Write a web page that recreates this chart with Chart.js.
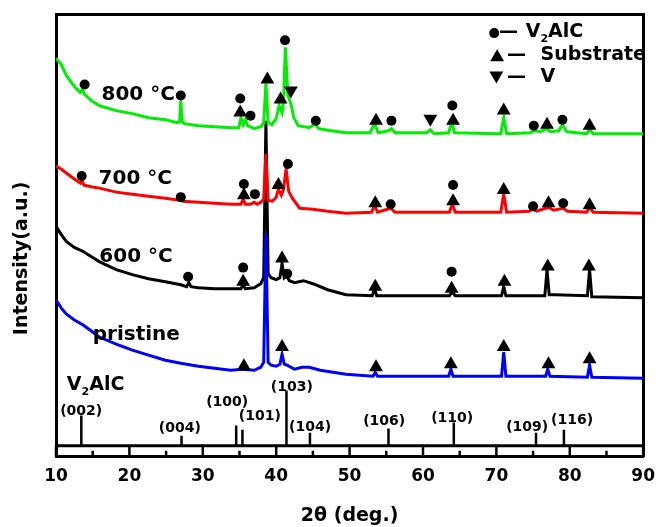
<!DOCTYPE html>
<html>
<head>
<meta charset="utf-8">
<script src="https://cdn.jsdelivr.net/npm/chart.js@4.4.1/dist/chart.umd.min.js"></script>
<style>
  html, body { margin: 0; padding: 0; background: #fff; }
  canvas { display: block; }
</style>
</head>
<body>
<canvas id="xrd" width="665" height="527"></canvas>
<script>
// XRD patterns, [2theta, intensity a.u.] -- curves are stacked with offsets like in the figure
const curve800 = [
  [10, 396], [10.7, 390], [11.4, 379], [12.5, 368], [13.3, 362], [13.6, 365], [13.9, 360], [15, 353],
  [15.9, 349], [18.2, 344], [20.4, 341], [22.6, 337], [24.9, 335], [26.5, 332], [26.85, 333], [27.0, 354],
  [27.2, 333], [27.5, 331], [29.4, 329], [31.6, 328], [33.8, 327], [34.9, 327], [35.2, 337], [35.5, 330],
  [35.8, 335], [36.1, 329], [37, 326], [37.9, 328], [38.3, 332], [38.6, 371], [38.9, 332], [39.4, 330],
  [40.0, 336], [40.4, 349], [40.8, 342], [41.0, 354], [41.25, 407], [41.6, 359], [42.0, 351], [42.4, 337],
  [43.0, 329], [44.5, 327], [45.3, 331], [45.8, 326], [47.5, 324], [49.5, 322], [52.8, 322], [53.4, 331],
  [53.9, 322], [55.3, 324], [55.7, 326], [56.2, 322], [60.5, 322], [61.0, 325], [61.5, 321], [63.5, 322],
  [63.9, 332], [64.3, 322], [70.6, 321], [71.0, 337], [71.4, 321], [74.6, 322], [75.1, 324], [76.0, 323],
  [76.8, 326], [77.4, 323], [78.5, 324], [79.0, 330], [79.6, 323], [82.3, 321], [82.7, 325], [83.2, 321],
  [90, 321]
];
const curve700 = [
  [10, 289], [10.7, 286], [11.4, 282], [12.5, 276], [13.3, 272], [13.5, 275], [13.8, 270], [15, 268],
  [15.9, 267], [18.2, 263], [20.4, 261], [22.6, 259], [24.9, 257], [26.7, 255], [27.0, 257], [27.3, 254],
  [29.4, 253], [31.6, 252], [33.8, 251], [35.2, 251], [35.5, 256], [35.8, 251], [36.5, 251], [37.0, 253],
  [37.4, 251], [37.9, 253], [38.3, 256], [38.6, 301], [38.9, 255], [39.5, 254], [40.0, 258], [40.3, 266],
  [40.7, 260], [41.0, 266], [41.35, 286], [41.7, 264], [42.2, 257], [43.2, 247], [45, 246], [47, 244],
  [49.5, 242], [53.0, 243], [53.4, 250], [53.8, 243], [55.6, 247], [56.2, 243], [60, 243], [63.6, 243],
  [64.0, 251], [64.4, 243], [70.6, 243], [71.0, 261], [71.4, 243], [74.5, 244], [74.9, 246], [75.5, 244],
  [77.1, 248], [77.8, 245], [79.1, 247], [79.7, 244], [82.3, 243], [82.7, 248], [83.2, 243], [90, 242]
];
const curve600 = [
  [10, 229], [10.7, 221], [11.4, 214], [12.5, 208], [13.7, 204], [15, 198], [15.9, 194], [18.2, 186],
  [20.4, 181], [22.6, 177], [24.9, 174], [27.0, 171], [27.8, 169], [28.1, 173], [28.4, 169], [29.4, 168],
  [31.6, 167], [33.8, 167], [35.2, 167], [35.5, 171], [35.8, 167], [37.0, 168], [37.9, 172], [38.3, 178],
  [38.6, 334], [38.9, 182], [39.3, 178], [40.0, 176], [40.5, 178], [40.8, 192], [41.1, 178], [41.4, 180],
  [41.8, 175], [42.5, 173], [43.7, 175], [45, 172], [47, 166], [49.5, 161], [53.1, 160], [53.4, 167],
  [53.7, 160], [58, 160], [63.6, 160], [64.0, 164], [64.4, 160], [70.7, 160], [71.0, 169], [71.3, 160],
  [76.6, 160], [76.9, 186], [77.2, 161], [78, 161], [82.4, 160], [82.7, 186], [83.0, 159], [90, 158]
];
const curvePristine = [
  [10, 156], [10.7, 148], [11.4, 142], [12.5, 136], [13.7, 131], [15, 124], [15.9, 119], [18.2, 112],
  [20.4, 106], [22.6, 101], [24.9, 96], [27.0, 93], [29.4, 90], [31.6, 88], [33.8, 86], [35.5, 87],
  [37.0, 86], [37.9, 89], [38.3, 94], [38.6, 222], [38.9, 94], [39.3, 91], [40.0, 90], [40.5, 92],
  [40.8, 102], [41.1, 92], [41.5, 91], [42.5, 87], [43.5, 89], [44.5, 89], [46, 86], [49.5, 82],
  [53.2, 80], [53.5, 84], [53.8, 80], [63.5, 80], [63.8, 87], [64.1, 80], [70.7, 80], [71.0, 104],
  [71.3, 80], [76.7, 80], [77.0, 87], [77.3, 80], [82.4, 79], [82.7, 91], [83.0, 79], [90, 78]
];

// phase markers: circle = V2AlC, up triangle = substrate, down triangle = V
const v2alcMarks = [
  [13.9, 370], [27.0, 359], [35.1, 356], [36.5, 339], [41.2, 414], [45.4, 334], [55.7, 334], [64.0, 349], [75.1, 329], [79.0, 335],
  [13.5, 279], [27.0, 258], [35.6, 271], [37.1, 261], [41.6, 291], [55.6, 251], [64.1, 270], [75.0, 249], [79.1, 252],
  [28.0, 179], [35.5, 188], [41.5, 182], [63.9, 184],
  [69.7, 421]
];
const substrateMarks = [
  [35.1, 342], [38.8, 375], [40.6, 355], [53.6, 334], [64.1, 334], [71.0, 344], [76.9, 330], [82.7, 329],
  [35.6, 260], [40.3, 270], [53.5, 252], [64.1, 254], [71.0, 265], [77.1, 252], [82.7, 250],
  [35.5, 174], [40.8, 197], [53.5, 169], [63.9, 167], [71.1, 174], [77.0, 189], [82.6, 189],
  [35.6, 90], [40.8, 109], [53.6, 89], [63.8, 92], [71.0, 109], [77.1, 92], [82.7, 97],
  [70.1, 397]
];
const vMarks = [[42.0, 364], [61.0, 336], [70.0, 379]];

// V2AlC reference pattern
const refPos = [13.45, 27.1, 34.55, 35.4, 41.4, 44.6, 55.3, 64.2, 75.4, 79.2];
const refTop = [41, 21, 31, 27, 66, 24, 28, 34, 24, 27];
const refBase = 11;
const refHkl = ['(002)', '(004)', '(100)', '(101)', '(103)', '(104)', '(106)', '(110)', '(109)', '(116)'];

// where the text goes (2theta, intensity)
const hklAt = [[13.43, 45], [26.87, 28], [33.33, 54], [37.77, 40], [42.13, 69], [44.62, 29], [54.71, 35], [63.98, 38], [74.2, 29], [80.32, 36]];
const curveNames = ['800 °C', '700 °C', '600 °C', 'pristine'];
const curveNameAt = [[16.2, 360], [15.8, 276], [15.9, 199], [15.0, 121]];

const FONT = 'DejaVu Sans';
Chart.defaults.font.family = FONT;

const pts = (arr) => arr.map(([x, y]) => ({ x, y }));

const refPoints = [];
refPos.forEach((p, i) => {
  refPoints.push({ x: p, y: refBase }, { x: p, y: refTop[i] }, { x: p, y: null });
});

function curve(data, color, order) {
  return {
    type: 'line', data: pts(data), borderColor: color, borderWidth: 3,
    pointRadius: 0, tension: 0, fill: false, order
  };
}

function marks(data, style, radius, rotation) {
  return {
    type: 'line', data: pts(data), showLine: false, pointStyle: style,
    pointRadius: radius, pointRotation: rotation, pointBackgroundColor: '#000',
    pointBorderColor: '#000', pointBorderWidth: 0, order: 0, clip: false
  };
}

// draws "V2AlC" with the 2 as subscript
function drawV2AlC(ctx, x, y, size) {
  ctx.textAlign = 'left';
  ctx.font = `bold ${size}px "${FONT}"`;
  ctx.fillText('V', x, y);
  let cx = x + ctx.measureText('V').width;
  ctx.font = `bold ${Math.round(size * 0.6)}px "${FONT}"`;
  ctx.fillText('2', cx, y + size * 0.35);
  cx += ctx.measureText('2').width;
  ctx.font = `bold ${size}px "${FONT}"`;
  ctx.fillText('AlC', cx, y);
}

const xrdText = {
  id: 'xrdText',
  afterDraw(chart) {
    const { ctx, chartArea, scales: { x, y } } = chart;
    ctx.save();
    ctx.fillStyle = '#000';
    ctx.strokeStyle = '#000';

    // inward ticks on the bottom axis
    ctx.lineWidth = 2.5;
    const vals = x.ticks.map(t => t.value);
    vals.forEach((v, i) => {
      const px = x.getPixelForValue(v);
      ctx.beginPath();
      ctx.moveTo(px, chartArea.bottom);
      ctx.lineTo(px, chartArea.bottom - 11);
      ctx.stroke();
      if (i < vals.length - 1) {
        const mx = x.getPixelForValue((v + vals[i + 1]) / 2);
        ctx.beginPath();
        ctx.moveTo(mx, chartArea.bottom);
        ctx.lineTo(mx, chartArea.bottom - 6);
        ctx.stroke();
      }
    });

    ctx.textBaseline = 'middle';

    // curve names
    ctx.textAlign = 'left';
    ctx.font = `bold 20px "${FONT}"`;
    curveNames.forEach((t, i) => {
      ctx.fillText(t, x.getPixelForValue(curveNameAt[i][0]), y.getPixelForValue(curveNameAt[i][1]));
    });

    // reference hkl labels
    ctx.textAlign = 'center';
    ctx.font = `bold 14px "${FONT}"`;
    refHkl.forEach((t, i) => {
      ctx.fillText(t, x.getPixelForValue(hklAt[i][0]), y.getPixelForValue(hklAt[i][1]));
    });
    drawV2AlC(ctx, x.getPixelForValue(11.48), y.getPixelForValue(71), 19);

    // legend
    ctx.textAlign = 'left';
    ctx.font = `bold 19px "${FONT}"`;
    ctx.fillText('—', x.getPixelForValue(70.37), y.getPixelForValue(422));
    drawV2AlC(ctx, x.getPixelForValue(74.0), y.getPixelForValue(422), 19);
    ctx.font = `bold 19px "${FONT}"`;
    ctx.fillText('—', x.getPixelForValue(71.44), y.getPixelForValue(399));
    ctx.fillText('Substrate', x.getPixelForValue(76.02), y.getPixelForValue(399));
    ctx.fillText('—', x.getPixelForValue(71.44), y.getPixelForValue(377.5));
    ctx.fillText('V', x.getPixelForValue(76.02), y.getPixelForValue(377.5));

    // y axis title
    ctx.translate(chartArea.left - 34, (chartArea.top + chartArea.bottom) / 2 + 23);
    ctx.rotate(-Math.PI / 2);
    ctx.textAlign = 'center';
    ctx.font = `bold 19px "${FONT}"`;
    ctx.fillText('Intensity(a.u.)', 0, 0);
    ctx.restore();
  }
};

const frame = { display: true, color: '#000', width: 3 };

new Chart(document.getElementById('xrd'), {
  type: 'line',
  data: {
    datasets: [
      marks(v2alcMarks, 'circle', 5, 0),
      marks(substrateMarks, 'triangle', 8, 0),
      marks(vMarks, 'triangle', 8, 180),
      curve(curvePristine, '#0000ff', 1),
      curve(curve700, '#ff0000', 2),
      curve(curve800, '#00ee00', 3),
      curve(curve600, '#000000', 4),
      { type: 'line', data: refPoints, borderColor: '#000', borderWidth: 2.5, pointRadius: 0, spanGaps: false, order: 5 },
      { type: 'line', data: pts([[10, refBase], [90, refBase]]), borderColor: '#000', borderWidth: 3, pointRadius: 0, order: 5 }
    ]
  },
  options: {
    responsive: false,
    animation: false,
    layout: { padding: { top: 14, right: 14, left: 56, bottom: 0 } },
    plugins: { legend: { display: false }, tooltip: { enabled: false } },
    scales: {
      x: {
        type: 'linear', position: 'bottom', min: 10, max: 90,
        ticks: { stepSize: 10, color: '#000', font: { size: 17, weight: 'bold' }, padding: 10 },
        grid: { display: false, drawTicks: false },
        border: frame,
        title: { display: true, text: '2θ (deg.)', color: '#000', font: { size: 19, weight: 'bold' }, padding: { top: 7, bottom: 0 } }
      },
      xTop: {
        type: 'linear', position: 'top', min: 10, max: 90,
        ticks: { display: false }, grid: { display: false, drawTicks: false }, border: frame
      },
      y: {
        type: 'linear', position: 'left', min: 0, max: 440,
        ticks: { display: false }, grid: { display: false, drawTicks: false }, border: frame
      },
      yRight: {
        type: 'linear', position: 'right', min: 0, max: 440,
        ticks: { display: false }, grid: { display: false, drawTicks: false }, border: frame
      }
    }
  },
  plugins: [xrdText]
});
</script>
</body>
</html>
